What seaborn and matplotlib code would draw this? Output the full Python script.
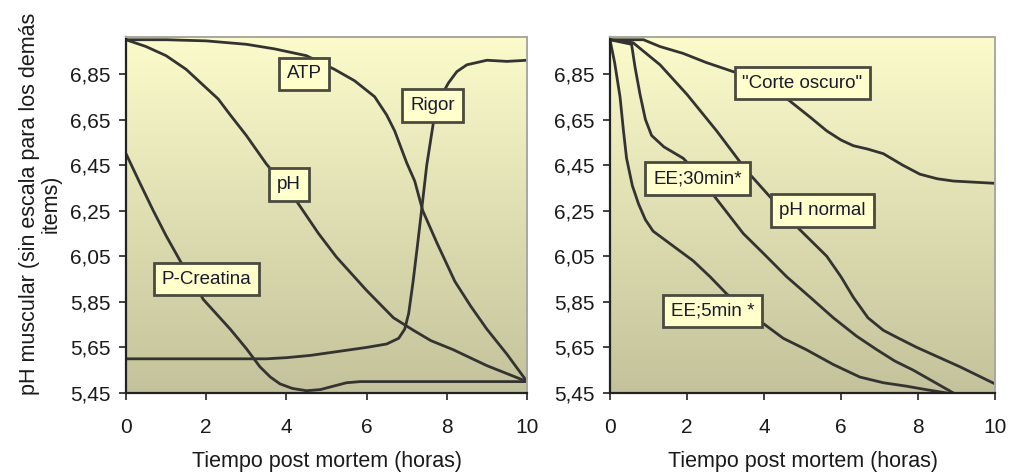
import numpy as np
import pandas as pd
import matplotlib
matplotlib.use("Agg")
import matplotlib.pyplot as plt
from matplotlib.colors import LinearSegmentedColormap
import seaborn as sns

# ---- Left panel: pH, ATP, rigor and creatine phosphate over time ----
atp_t = [0, 1.0, 2.0, 3.0, 3.7, 4.5, 5.2, 5.7, 6.2, 6.5, 6.7, 7.0, 7.2, 7.4,
         7.75, 8.2, 8.6, 9.0, 9.5, 10]
atp_v = [7.0, 7.0, 6.995, 6.98, 6.96, 6.93, 6.87, 6.82, 6.75, 6.67, 6.60, 6.46,
         6.38, 6.25, 6.11, 5.94, 5.83, 5.73, 5.62, 5.50]

rigor_t = [0, 3.5, 4.0, 4.6, 5.2, 6.0, 6.5, 6.8, 6.95, 7.05, 7.16, 7.27, 7.37,
           7.5, 7.66, 7.85, 8.04, 8.25, 8.5, 9.0, 9.5, 10]
rigor_v = [5.60, 5.60, 5.605, 5.615, 5.63, 5.65, 5.665, 5.69, 5.73, 5.80, 5.94,
           6.10, 6.25, 6.45, 6.63, 6.75, 6.81, 6.86, 6.89, 6.91, 6.905, 6.91]

ph_t = [0, 0.5, 1.0, 1.5, 1.93, 2.3, 2.6, 3.0, 3.5, 4.0, 4.26, 4.8, 5.25, 6.0,
        6.67, 7.16, 7.6, 8.16, 9.0, 10]
ph_v = [7.0, 6.97, 6.93, 6.87, 6.80, 6.74, 6.67, 6.58, 6.455, 6.35, 6.29, 6.15,
        6.046, 5.90, 5.78, 5.726, 5.68, 5.64, 5.57, 5.50]

pcr_t = [0, 0.35, 0.68, 1.0, 1.35, 1.93, 2.6, 3.0, 3.34, 3.6, 3.84, 4.15, 4.5,
         4.85, 5.17, 5.5, 5.84, 10]
pcr_v = [6.50, 6.37, 6.25, 6.14, 6.03, 5.86, 5.73, 5.645, 5.565, 5.52, 5.49,
         5.47, 5.46, 5.465, 5.48, 5.495, 5.50, 5.50]

# ---- Right panel: pH decline patterns ----
dark_t = [0, 0.87, 1.3, 1.9, 2.5, 3.2, 3.9, 4.3, 4.68, 5.2, 5.63, 6.0, 6.32,
          6.7, 7.1, 7.6, 8.05, 8.5, 8.92, 10]
dark_v = [7.0, 7.0, 6.97, 6.94, 6.90, 6.86, 6.82, 6.78, 6.73, 6.66, 6.60, 6.56,
          6.535, 6.52, 6.50, 6.45, 6.41, 6.39, 6.38, 6.37]

normal_t = [0, 0.6, 1.3, 2.0, 2.77, 3.55, 4.16, 4.85, 5.63, 6.0, 6.32, 6.7, 7.1,
            7.5, 7.97, 9.09, 10]
normal_v = [7.0, 6.987, 6.89, 6.76, 6.60, 6.425, 6.31, 6.18, 6.05, 5.96, 5.87,
            5.78, 5.725, 5.69, 5.65, 5.565, 5.49]

ee30_t = [0, 0.56, 0.65, 0.78, 0.92, 1.08, 1.4, 1.9, 2.3, 2.68, 3.46, 4.0, 4.59,
          5.2, 5.8, 6.4, 6.93, 7.4, 7.88, 8.4, 8.92]
ee30_v = [7.0, 6.98, 6.88, 6.76, 6.65, 6.58, 6.53, 6.48, 6.41, 6.32, 6.15, 6.06,
          5.96, 5.87, 5.78, 5.70, 5.64, 5.59, 5.55, 5.50, 5.45]

ee5_t = [0, 0.12, 0.26, 0.35, 0.43, 0.58, 0.74, 0.92, 1.12, 1.6, 2.16, 2.6, 3.03,
         3.5, 3.98, 4.5, 5.1, 5.8, 6.49, 7.1, 7.7, 8.2, 8.75]
ee5_v = [7.0, 6.90, 6.75, 6.60, 6.48, 6.36, 6.28, 6.21, 6.16, 6.10, 6.03, 5.96,
         5.885, 5.82, 5.755, 5.69, 5.64, 5.575, 5.52, 5.495, 5.48, 5.465, 5.45]

y_ticks = [5.45, 5.65, 5.85, 6.05, 6.25, 6.45, 6.65, 6.85]
x_ticks = [0, 2, 4, 6, 8, 10]

left_series = [("ATP", atp_t, atp_v), ("Rigor", rigor_t, rigor_v),
               ("pH", ph_t, ph_v), ("P-Creatina", pcr_t, pcr_v)]
right_series = [("\"Corte oscuro\"", dark_t, dark_v), ("pH normal", normal_t, normal_v),
                ("EE;30min*", ee30_t, ee30_v), ("EE;5min *", ee5_t, ee5_v)]

# label box anchors (data coordinates)
left_labels = [("ATP", 4.44, 6.85), ("Rigor", 7.64, 6.71),
               ("pH", 4.07, 6.365), ("P-Creatina", 2.01, 5.95)]
right_labels = [("\"Corte oscuro\"", 5.0, 6.81), ("EE;30min*", 2.27, 6.39),
                ("pH normal", 5.52, 6.25), ("EE;5min *", 2.66, 5.81)]

sns.set_theme(style="white")
plt.rcParams["font.family"] = ["Liberation Sans", "DejaVu Sans"]

fig = plt.figure(figsize=(10.10, 4.74), dpi=100)
ax_l = fig.add_axes([126 / 1010, 81 / 474, 401 / 1010, 356 / 474])
ax_r = fig.add_axes([610 / 1010, 81 / 474, 385 / 1010, 356 / 474])

bg_cmap = LinearSegmentedColormap.from_list("bg", ["#c3c29a", "#fcfbcb"])
line_color = "#333333"
text_color = "#1a1a1a"
Y_TOP = 7.012


def to_frame(series):
    rows = []
    for name, t, v in series:
        for ti, vi in zip(t, v):
            rows.append({"serie": name, "t": ti, "v": vi})
    return pd.DataFrame(rows)


def style_axes(ax, series, labels):
    ax.set_xlim(0, 10)
    ax.set_ylim(5.45, Y_TOP)
    grad = np.linspace(0, 1, 256).reshape(-1, 1)
    ax.imshow(grad, cmap=bg_cmap, origin="lower", aspect="auto",
              extent=[0, 10, 5.45, Y_TOP], zorder=0)
    df = to_frame(series)
    sns.lineplot(data=df, x="t", y="v", units="serie", estimator=None,
                 sort=False, color=line_color, linewidth=2.0, ax=ax, zorder=2,
                 legend=False)
    for line in ax.get_lines():
        line.set_solid_joinstyle("round")
        line.set_solid_capstyle("round")
    for text, x, y in labels:
        ax.text(x, y, text, ha="center", va="center", fontsize=13.5,
                color="#1a1a2e", zorder=5,
                bbox=dict(boxstyle="square,pad=0.42", fc="#ffffcc",
                          ec="#4a4a40", lw=2.0))
    ax.set_xticks(x_ticks)
    ax.set_xticklabels([str(v) for v in x_ticks])
    ax.set_yticks(y_ticks)
    ax.set_yticklabels([f"{v:.2f}".replace(".", ",") for v in y_ticks])
    ax.tick_params(axis="x", pad=13)
    ax.tick_params(axis="y", pad=6)
    ax.tick_params(axis="both", which="major", direction="out", length=5,
                   width=1.2, color="#222222", labelsize=15,
                   labelcolor=text_color, bottom=True, left=True)
    ax.set_xlabel("Tiempo post mortem (horas)", fontsize=15.5,
                  color=text_color, labelpad=10)
    ax.set_ylabel("")
    for side in ("left", "bottom"):
        ax.spines[side].set_color("#222222")
        ax.spines[side].set_linewidth(1.6)
    for side in ("top", "right"):
        ax.spines[side].set_color("#a8a8a0")
        ax.spines[side].set_linewidth(1.4)


style_axes(ax_l, left_series, left_labels)
style_axes(ax_r, right_series, right_labels)

fig.text(40 / 1010, 1 - 204 / 474,
         "pH muscular (sin escala para los demás\nitems)", fontsize=15.5,
         color=text_color, rotation=90, ha="center", va="center",
         multialignment="center", linespacing=1.05)

fig.savefig("out.png", dpi=100, facecolor="white")
